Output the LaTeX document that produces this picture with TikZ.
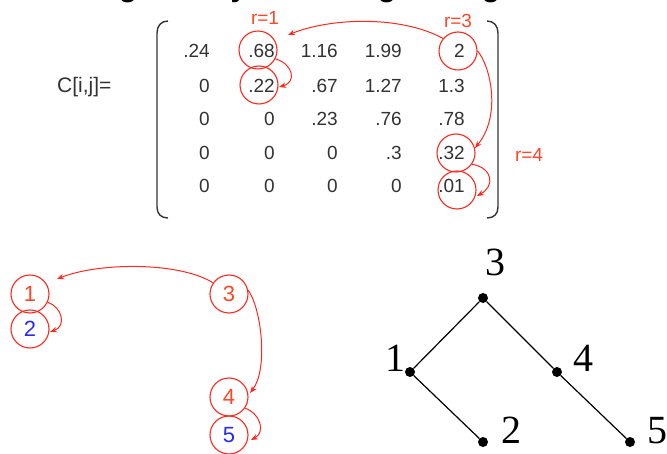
\documentclass[tikz,border=0pt]{standalone}
\usepackage{fontspec}
\setmainfont{Liberation Sans}
\newfontfamily\treefont{Liberation Serif}
\usetikzlibrary{calc,arrows.meta}
\definecolor{cred}{RGB}{255,40,30}
\definecolor{lred}{RGB}{255,70,40}
\definecolor{cblue}{RGB}{40,40,255}
\definecolor{mgray}{RGB}{50,50,50}
\begin{document}
\begin{tikzpicture}[x=1pt,y=-1pt,
  ent/.style={anchor=base east,inner sep=0pt,font=\fontsize{19}{19}\selectfont,text=mgray},
  ring/.style={circle,draw=cred,line width=1.1pt,minimum size=38pt,inner sep=0pt},
  rlab/.style={inner sep=0pt,anchor=base,font=\fontsize{19}{19}\selectfont,text=lred},
  arr/.style={draw=cred,line width=1pt,-{Stealth[length=7pt,width=5.5pt]}},
  numring/.style={ring,font=\fontsize{22}{22}\selectfont},
  tdot/.style={circle,fill=black,inner sep=0pt,minimum size=10pt},
  tlab/.style={anchor=base,inner sep=0pt,font=\treefont\fontsize{40}{40}\selectfont},
  treeline/.style={draw=black,line width=1.2pt},
  brk/.style={draw=mgray,line width=1.4pt},
  frag/.style={anchor=base,inner sep=0pt,font=\bfseries\fontsize{30}{30}\selectfont},
]
\useasboundingbox (0,0) rectangle (667,454);
\clip (0,0) rectangle (667,454);

% clipped title fragments
\node[frag] (tg1) at (128,-3) {g};
\node[frag] (ty1) at (239,-3) {y};
\node[frag] (tg2) at (387,-3) {g};
\node[frag] (tg3) at (491,-3) {g};

% label C[i,j]=
\node[anchor=base west,inner sep=0pt,font=\fontsize{21}{21}\selectfont,text=mgray] (clab) at (57,93) {C[i,j]=};

% brackets
\draw[brk] (168,21) .. controls (161,21) and (157,26) .. (157,33) -- (157,207) .. controls (157,214) and (161,218) .. (168,218);
\draw[brk] (487,21) .. controls (494,21) and (498,26) .. (498,33) -- (498,207) .. controls (498,214) and (494,218) .. (487,218);

% matrix entries
\node[ent] (m11) at (210,58) {.24};
\node[ent] (m12) at (275,58) {.68};
\node[ent] (m13) at (338,58) {1.16};
\node[ent] (m14) at (402,58) {1.99};
\node[ent] (m15) at (465,58) {2};
\node[ent] (m21) at (210,93) {0};
\node[ent] (m22) at (275,93) {.22};
\node[ent] (m23) at (338,93) {.67};
\node[ent] (m24) at (402,93) {1.27};
\node[ent] (m25) at (465,93) {1.3};
\node[ent] (m31) at (210,126) {0};
\node[ent] (m32) at (275,126) {0};
\node[ent] (m33) at (338,126) {.23};
\node[ent] (m34) at (402,126) {.76};
\node[ent] (m35) at (465,126) {.78};
\node[ent] (m41) at (210,160) {0};
\node[ent] (m42) at (275,160) {0};
\node[ent] (m43) at (338,160) {0};
\node[ent] (m44) at (402,160) {.3};
\node[ent] (m45) at (465,160) {.32};
\node[ent] (m51) at (210,193) {0};
\node[ent] (m52) at (275,193) {0};
\node[ent] (m53) at (338,193) {0};
\node[ent] (m54) at (402,193) {0};
\node[ent] (m55) at (465,193) {.01};

% red circles
\node[ring] (c68) at (258,50) {};
\node[ring] (c22) at (259,85) {};
\node[ring] (c2)  at (458,51) {};
\node[ring] (c32) at (456,153) {};
\node[ring] (c01) at (457,190) {};

% labels
\node[rlab] (r1) at (265,25) {r=1};
\node[rlab] (r3) at (458,28) {r=3};
\node[rlab] (r4) at (529,162) {r=4};

% arrows in matrix
\draw[arr] (c2.140) .. controls (400,15) and (330,18) .. ($(c68.center)+(30,-15)$);
\draw[arr] (c68.-27) .. controls (293,64) and (297,82) .. ($(c22.center)+(20,2)$);
\draw[arr] (c2.east) .. controls (490,65) and (502,115) .. ($(c32.center)+(19,-5)$);
\draw[arr] (c32.-35) .. controls (493,168) and (495,186) .. ($(c01.center)+(20,6)$);

% bottom-left circles
\node[numring,text=lred]  (n1) at (30,294) {1};
\node[numring,text=cblue] (n2) at (30,329) {2};
\node[numring,text=lred]  (n3) at (229,294) {3};
\node[numring,text=lred]  (n4) at (229,397) {4};
\node[numring,text=cblue] (n5) at (229,435) {5};

\draw[arr] (n3.145) .. controls (180,262) and (100,262) .. ($(n1.center)+(27,-15)$);
\draw[arr] (n1.-25) .. controls (62,307) and (67,326) .. ($(n2.center)+(20,3)$);
\draw[arr] (n3.12) .. controls (262,310) and (268,370) .. ($(n4.center)+(21,-4)$);
\draw[arr] (n4.-35) .. controls (260,413) and (266,432) .. ($(n5.center)+(22,5)$);

% tree
\node[tdot] (t3) at (483,298) {};
\node[tdot] (t1) at (410,372) {};
\node[tdot] (t4) at (557,372) {};
\node[tdot] (t2) at (483,442) {};
\node[tdot] (t5) at (630,442) {};
\draw[treeline] (t3) -- (t1);
\draw[treeline] (t1) -- (t2);
\draw[treeline] (t3) -- (t4);
\draw[treeline] (t4) -- (t5);
\node[tlab] (l3) at (495,276) {3};
\node[tlab] (l1) at (395,372) {1};
\node[tlab] (l4) at (583,372) {4};
\node[tlab] (l2) at (511,443) {2};
\node[tlab] (l5) at (657,443) {5};
\end{tikzpicture}
\end{document}
